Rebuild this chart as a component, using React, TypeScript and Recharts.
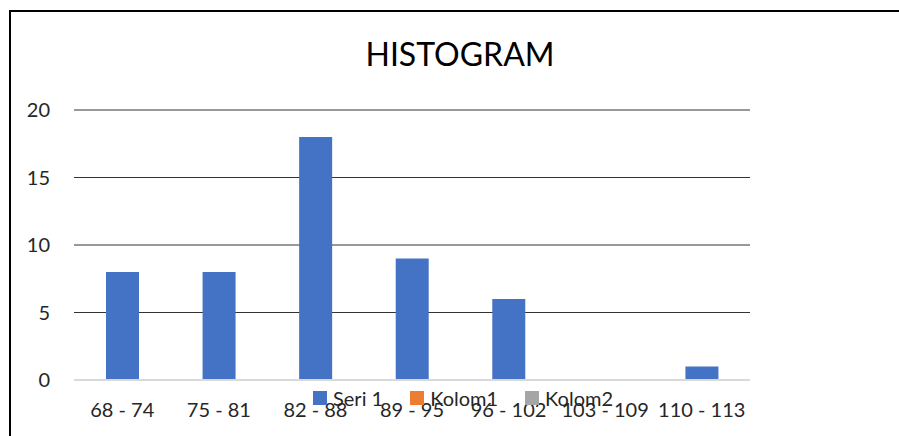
import { BarChart, Bar, XAxis, YAxis, CartesianGrid, Legend } from 'recharts';

const categories = ['68 - 74', '75 - 81', '82 - 88', '89 - 95', '96 - 102', '103 - 109', '110 - 113'];
const seri1 = [8, 8, 18, 9, 6, 0, 1];
const kolom1 = [0, 0, 0, 0, 0, 0, 0];
const kolom2 = [0, 0, 0, 0, 0, 0, 0];
const yTicks = [0, 5, 10, 15, 20];
const seriesNames = ['Seri 1', 'Kolom1', 'Kolom2'];

const chartData = categories.map((c, i) => ({
  range: c,
  seri1: seri1[i],
  kolom1: kolom1[i],
  kolom2: kolom2[i],
}));

const font = 'Lato, "Open Sans", sans-serif';

// legend drawn by hand so the order and spacing follow the original
const renderLegend = (props: any) => {
  const items = [...(props.payload || [])].sort(
    (a: any, b: any) => seriesNames.indexOf(a.value) - seriesNames.indexOf(b.value)
  );
  return (
    <div style={{ display: 'flex', fontFamily: font, fontSize: 20, color: '#262626', lineHeight: '20px' }}>
      {items.map((it: any) => (
        <div key={it.value} style={{ display: 'flex', alignItems: 'center', marginRight: 27 }}>
          <span style={{ width: 14, height: 14, background: it.color, display: 'inline-block', marginRight: 6 }} />
          <span>{it.value}</span>
        </div>
      ))}
    </div>
  );
};

const App = () => {
  return (
    <div style={{ position: 'absolute', left: 0, top: 0, width: 899, height: 436, overflow: 'hidden', background: '#fff' }}>
      <div style={{ position: 'absolute', left: 9, top: 10, width: 1000, height: 600, border: '2px solid #000' }} />
      <div style={{ position: 'absolute', left: 0, width: 920, top: 34, textAlign: 'center', fontFamily: font, fontSize: 32, color: '#000' }}>
        HISTOGRAM
      </div>
      <div style={{ position: 'absolute', left: 0, top: 0 }}>
        <BarChart width={899} height={436} data={chartData} margin={{ top: 110, right: 149, bottom: 6, left: 14 }}>
          <CartesianGrid horizontal vertical={false} stroke="#333" horizontalValues={[5, 10, 15, 20]} />
          <XAxis
            dataKey="range"
            interval={0}
            height={30}
            tickLine={false}
            tickSize={0}
            tickMargin={23}
            axisLine={{ stroke: '#d9d9d9', strokeWidth: 2 }}
            tick={{ fill: '#262626', fontSize: 20, fontFamily: font }}
          />
          <YAxis
            domain={[0, 20]}
            ticks={yTicks}
            width={60}
            axisLine={false}
            tickLine={false}
            tickSize={0}
            tickMargin={24}
            tick={{ fill: '#262626', fontSize: 20, fontFamily: font }}
          />
          <Legend
            content={renderLegend}
            wrapperStyle={{ position: 'absolute', top: 388, left: 313, width: 340, height: 20 }}
          />
          <Bar dataKey="seri1" name="Seri 1" stackId="a" fill="#4472C4" barSize={33} isAnimationActive={false} />
          <Bar dataKey="kolom1" name="Kolom1" stackId="a" fill="#ED7D31" barSize={33} isAnimationActive={false} />
          <Bar dataKey="kolom2" name="Kolom2" stackId="a" fill="#A5A5A5" barSize={33} isAnimationActive={false} />
        </BarChart>
      </div>
    </div>
  );
};

export default App;
